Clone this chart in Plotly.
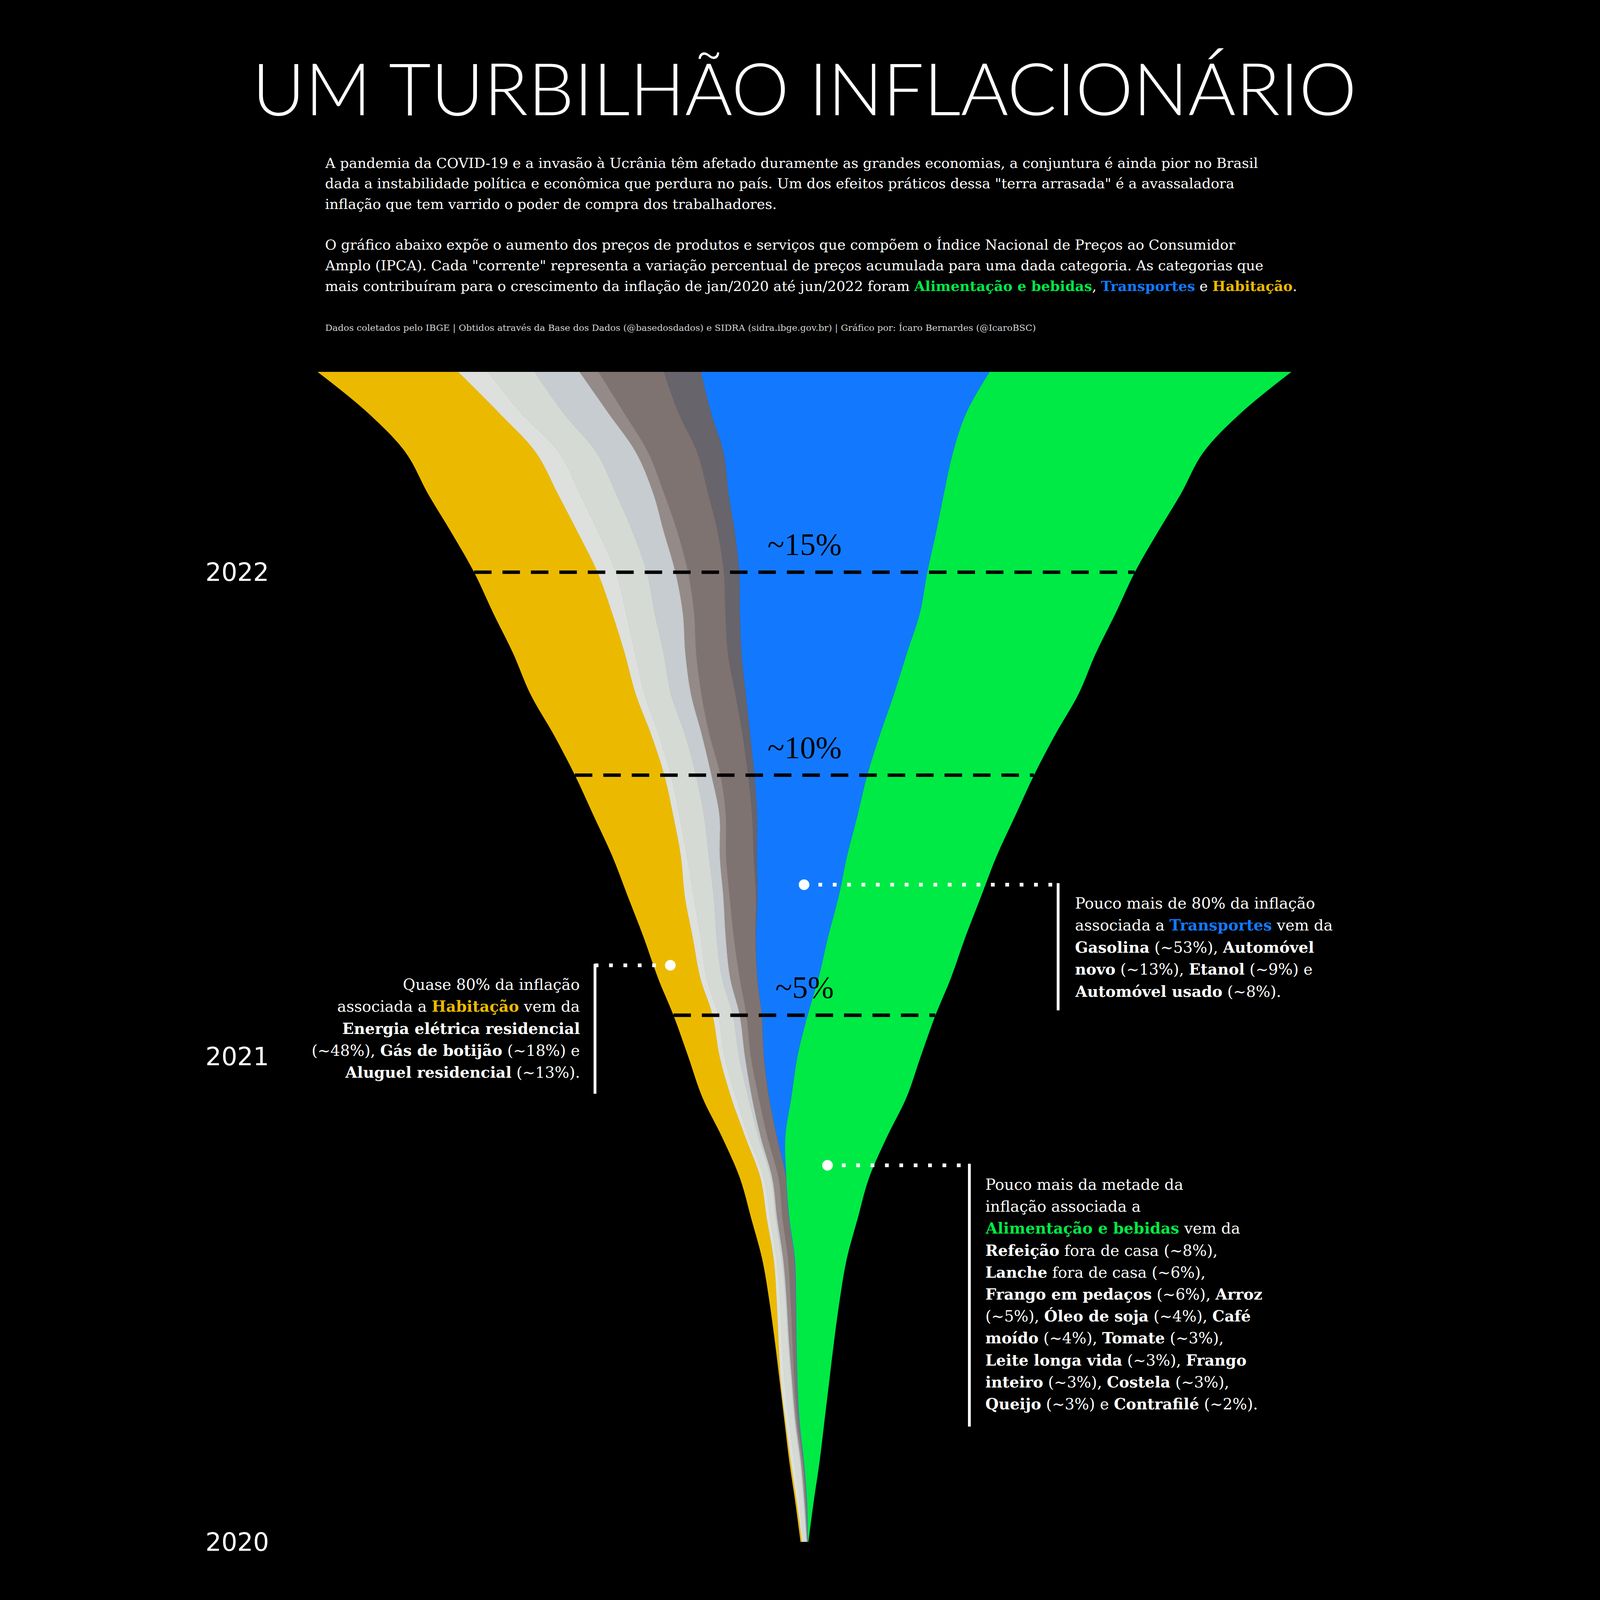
import pandas as pd
import plotly.graph_objects as go

# contribuição acumulada de cada grupo do IPCA (p.p.), jan/2020 .. jun/2022
months = pd.date_range("2020-01-01", "2022-06-01", freq="MS")

categories = ["Habitação", "Comunicação", "Artigos de residência", "Vestuário", "Educação",
              "Saúde e cuidados pessoais", "Despesas pessoais", "Transportes", "Alimentação e bebidas"]
colors = ["#EBBA00", "#DDE0DC", "#D6DAD4", "#C6CCCF", "#948A87",
          "#7F7372", "#67646B", "#1279FF", "#00EA45"]

habitacao = [0.03, 0.03, 0.03, 0.02, 0.02, 0.08, 0.16, 0.25, 0.34, 0.45, 0.51, 0.63, 0.69, 0.86, 0.93,
             1.08, 1.25, 1.51, 1.75, 1.97, 2.15, 2.32, 2.46, 2.62, 2.72, 2.79, 2.86, 2.87, 2.89, 3.10]
comunicacao = [0.04, 0.06, 0.08, 0.08, 0.09, 0.08, 0.08, 0.07, 0.08, 0.08, 0.08, 0.11, 0.11, 0.13, 0.14,
               0.18, 0.20, 0.14, 0.14, 0.15, 0.17, 0.20, 0.23, 0.31, 0.41, 0.46, 0.49, 0.52, 0.49, 0.66]
artigos = [0.06, 0.09, 0.12, 0.12, 0.14, 0.13, 0.12, 0.11, 0.12, 0.15, 0.21, 0.27, 0.32, 0.32, 0.34,
           0.35, 0.44, 0.48, 0.54, 0.55, 0.58, 0.58, 0.63, 0.63, 0.68, 0.76, 0.80, 0.82, 0.93, 1.03]
vestuario = [0.01, 0.02, 0.02, 0.02, 0.02, 0.02, 0.02, 0.03, 0.03, 0.03, 0.05, 0.08, 0.13, 0.15, 0.18,
             0.20, 0.21, 0.24, 0.34, 0.34, 0.37, 0.44, 0.48, 0.62, 0.63, 0.69, 0.82, 0.87, 0.99, 0.99]
educacao = [0.01, 0.03, 0.04, 0.04, 0.05, 0.08, 0.09, 0.11, 0.12, 0.14, 0.15, 0.15, 0.13, 0.15, 0.21,
            0.18, 0.14, 0.14, 0.14, 0.20, 0.17, 0.23, 0.24, 0.25, 0.28, 0.30, 0.24, 0.27, 0.35, 0.42]
saude = [0.01, 0.03, 0.03, 0.05, 0.07, 0.09, 0.12, 0.15, 0.15, 0.17, 0.21, 0.23, 0.29, 0.34, 0.39,
         0.48, 0.58, 0.61, 0.58, 0.61, 0.73, 0.75, 0.70, 0.69, 0.79, 0.89, 0.97, 1.08, 1.20, 1.44]
despesas = [0, 0, 0, 0, 0, 0, 0, 0, 0, 0, 0, 0, 0, 0, 0,
            0.01, 0.03, 0.07, 0.11, 0.14, 0.17, 0.23, 0.30, 0.32, 0.34, 0.38, 0.45, 0.58, 0.72, 0.82]
transportes = [0, 0, 0, 0, 0, 0, 0, 0, 0, 0, 0.18, 0.49, 0.74, 1.01, 1.35,
               1.59, 1.79, 1.99, 2.21, 2.49, 2.87, 3.27, 3.65, 3.97, 4.15, 4.45, 4.75, 5.06, 5.63, 6.37]
alimentacao = [0.01, 0.15, 0.34, 0.55, 0.70, 0.83, 0.96, 1.14, 1.51, 1.82, 2.24, 2.54, 2.72, 2.82, 2.92,
               3.03, 3.14, 3.30, 3.48, 3.68, 3.87, 4.07, 4.17, 4.32, 4.58, 4.90, 5.23, 5.52, 6.06, 6.66]

series = [habitacao, comunicacao, artigos, vestuario, educacao, saude, despesas, transportes, alimentacao]

# linhas de referência (índice do mês) e seus rótulos
ref_idx = [13, 19, 24]
ref_labels = ["~5%", "~10%", "~15%"]

year_ticks = ["2020-01-01", "2021-01-01", "2022-01-01"]
year_labels = ["2020", "2021", "2022"]

W, H = 4160, 5120
ML, MR = 400, 60
PX_PER_PP = 145
CENTER_PX = 2094
Y_BOTTOM_PX, Y_TOP_PX = 4934, 1190


def xp(px):
    return (px - ML) / (W - ML - MR)


def yp(px):
    return 1 - px / H


total = [sum(v) for v in zip(*series)]
left = [-t / 2 for t in total]

fig = go.Figure()
fig.add_trace(go.Scatter(x=left, y=months, mode="lines", line=dict(width=0, shape="spline"),
                         showlegend=False, hoverinfo="skip"))
edge = list(left)
for name, vals, col in zip(categories, series, colors):
    edge = [e + v for e, v in zip(edge, vals)]
    fig.add_trace(go.Scatter(x=edge, y=months, mode="lines", name=name, fill="tonextx",
                             fillcolor=col, line=dict(width=1, color=col, shape="spline"),
                             showlegend=False))

for i, lab in zip(ref_idx, ref_labels):
    fig.add_trace(go.Scatter(x=[left[i], -left[i]], y=[months[i], months[i]], mode="lines",
                             line=dict(color="black", width=11, dash="56px,35px"),
                             showlegend=False, hoverinfo="skip"))
    fig.add_annotation(x=0, y=months[i], xref="x", yref="y", text=lab, showarrow=False,
                       yshift=88, font=dict(family="Liberation Serif", size=100, color="black"))

# eixo vertical: tempo
days_span = (months[-1] - months[0]).days
px_per_day = (Y_BOTTOM_PX - Y_TOP_PX) / days_span
y_lo = months[0] - pd.Timedelta(days=(H - Y_BOTTOM_PX) / px_per_day)
y_hi = months[0] + pd.Timedelta(days=Y_BOTTOM_PX / px_per_day)
x_lo = (ML - CENTER_PX) / PX_PER_PP
x_hi = (W - MR - CENTER_PX) / PX_PER_PP

fig.update_layout(
    width=W, height=H,
    margin=dict(l=ML, r=MR, t=0, b=0),
    paper_bgcolor="black", plot_bgcolor="black",
    title=dict(text="UM TURBILHÃO INFLACIONÁRIO", x=CENTER_PX / W, xref="container",
               xanchor="center", y=1 - 287 / H, yref="container", yanchor="middle",
               font=dict(family="Lato", size=233, color="white", weight=300)),
    xaxis=dict(range=[x_lo, x_hi], visible=False),
    yaxis=dict(range=[y_lo, y_hi], showgrid=False, zeroline=False, ticks="",
               tickvals=year_ticks, ticktext=year_labels, ticklabelstandoff=18,
               tickfont=dict(family="DejaVu Sans", size=80, color="white")),
    showlegend=False,
)

GREEN, BLUE, YELLOW = "#00EA45", "#1279FF", "#EBBA00"


def hl(txt, col):
    return f"<span style='color:{col}'><b>{txt}</b></span>"


def add_lines(lines, x_px, y0_px, step, anchor="left", size=49, color="white", family="DejaVu Serif"):
    for k, line in enumerate(lines):
        fig.add_annotation(x=xp(x_px), y=yp(y0_px + k * step), xref="paper", yref="paper",
                           text=line, showarrow=False, xanchor=anchor, yanchor="middle",
                           font=dict(family=family, size=size, color=color))


intro = [
    "A pandemia da COVID-19 e a invasão à Ucrânia têm afetado duramente as grandes economias, a conjuntura é ainda pior no Brasil",
    "dada a instabilidade política e econômica que perdura no país. Um dos efeitos práticos dessa \"terra arrasada\" é a avassaladora",
    "inflação que tem varrido o poder de compra dos trabalhadores.",
]
intro2 = [
    "O gráfico abaixo expõe o aumento dos preços de produtos e serviços que compõem o Índice Nacional de Preços ao Consumidor",
    "Amplo (IPCA). Cada \"corrente\" representa a variação percentual de preços acumulada para uma dada categoria. As categorias que",
    "mais contribuíram para o crescimento da inflação de jan/2020 até jun/2022 foram "
    + hl("Alimentação e bebidas", GREEN) + ", " + hl("Transportes", BLUE) + " e " + hl("Habitação", YELLOW) + ".",
]
add_lines(intro, 558, 522, 65.5, size=45)
add_lines(intro2, 558, 784, 65.5, size=45)
add_lines(["Dados coletados pelo IBGE | Obtidos através da Base dos Dados (@basedosdados) e SIDRA "
           "(sidra.ibge.gov.br) | Gráfico por: Ícaro Bernardes (@IcaroBSC)"],
          558, 1048, 0, size=29, color="#d6d6d6")

transp = [
    "Pouco mais de 80% da inflação",
    "associada a " + hl("Transportes", BLUE) + " vem da",
    "<b>Gasolina</b> (~53%), <b>Automóvel</b>",
    "<b>novo</b> (~13%), <b>Etanol</b> (~9%) e",
    "<b>Automóvel usado</b> (~8%).",
]
habit = [
    "Quase 80% da inflação",
    "associada a " + hl("Habitação", YELLOW) + " vem da",
    "<b>Energia elétrica residencial</b>",
    "(~48%), <b>Gás de botijão</b> (~18%) e",
    "<b>Aluguel residencial</b> (~13%).",
]
alim = [
    "Pouco mais da metade da",
    "inflação associada a",
    hl("Alimentação e bebidas", GREEN) + " vem da",
    "<b>Refeição</b> fora de casa (~8%),",
    "<b>Lanche</b> fora de casa (~6%),",
    "<b>Frango em pedaços</b> (~6%), <b>Arroz</b>",
    "(~5%), <b>Óleo de soja</b> (~4%), <b>Café</b>",
    "<b>moído</b> (~4%), <b>Tomate</b> (~3%),",
    "<b>Leite longa vida</b> (~3%), <b>Frango</b>",
    "<b>inteiro</b> (~3%), <b>Costela</b> (~3%),",
    "<b>Queijo</b> (~3%) e <b>Contrafilé</b> (~2%).",
]
add_lines(transp, 2958, 2890, 70.8)
add_lines(habit, 1378, 3151, 70.3, anchor="right")
add_lines(alim, 2671, 3791, 70.2)

# marcadores das notas: ponto, linha pontilhada e barra vertical
notes = [
    (2093, 2831, 2906, 3233),
    (1665, 3089, 1424, 3500),
    (2168, 3729, 2622, 4565),
]
for cx, cy, bx, by in notes:
    fig.add_shape(type="line", xref="paper", yref="paper", x0=xp(cx), y0=yp(cy), x1=xp(bx), y1=yp(cy),
                  line=dict(color="white", width=12, dash="12px,34px"))
    fig.add_shape(type="line", xref="paper", yref="paper", x0=xp(bx), y0=yp(cy - 5), x1=xp(bx), y1=yp(by),
                  line=dict(color="white", width=9))
    fig.add_shape(type="circle", xref="paper", yref="paper", x0=xp(cx - 17), x1=xp(cx + 17),
                  y0=yp(cy + 17), y1=yp(cy - 17), fillcolor="white", line=dict(width=0))

# página sem margem; se a janela for menor que a figura, reduz para caber inteira
fit_js = """
document.body.style.margin = '0';
document.body.style.background = 'black';
document.body.style.overflow = 'hidden';
var gd = document.getElementById('{plot_id}');
var s = Math.min(window.innerWidth / %d, window.innerHeight / %d, 1);
if (s < 1) {
  gd.style.transformOrigin = '0 0';
  gd.style.transform = 'translateX(' + ((window.innerWidth - %d * s) / 2) + 'px) scale(' + s + ')';
}
""" % (W, H, W)

fig.write_html("out.html", config={"displayModeBar": False}, post_script=fit_js)
